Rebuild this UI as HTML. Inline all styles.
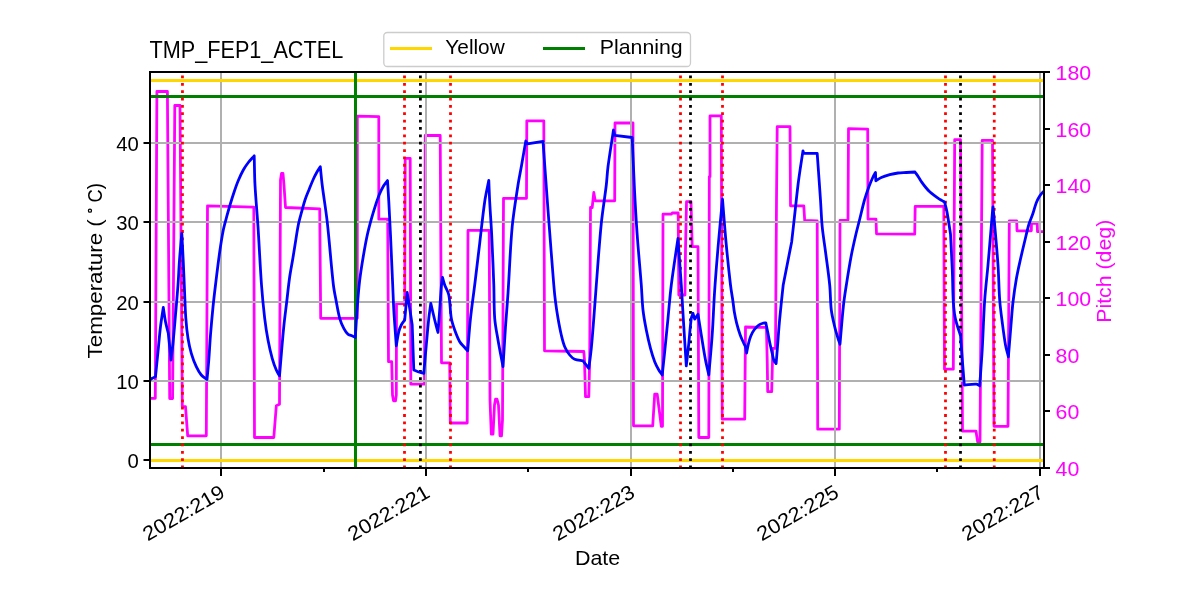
<!DOCTYPE html><html><head><meta charset="utf-8"><style>html,body{margin:0;padding:0;background:#fff;}svg{display:block;will-change:transform;}text{font-family:"Liberation Sans",sans-serif;}</style></head><body>
<svg width="1200" height="600" viewBox="0 0 1200 600">
<rect x="0" y="0" width="1200" height="600" fill="#fff"/>
<defs><clipPath id="ax"><rect x="150" y="72" width="894" height="396"/></clipPath></defs>
<g clip-path="url(#ax)"><path d="M150.00,398.30 L155.30,398.30 L156.90,91.50 L167.40,91.50 L169.70,398.50 L172.60,398.50 L174.80,105.50 L180.00,105.50 L181.50,300.00 L182.30,406.70 L185.50,406.70 L187.70,435.80 L206.30,435.80 L207.50,205.80 L253.80,207.20 L254.50,437.50 L273.80,437.50 L276.30,405.80 L279.50,404.20 L280.50,180.00 L281.50,173.50 L283.00,173.50 L284.00,185.00 L285.50,207.50 L319.70,208.80 L320.70,318.30 L357.30,318.30 L357.30,116.20 L378.80,116.70 L378.80,219.20 L387.70,219.20 L388.50,361.70 L391.70,361.70 L392.50,395.00 L393.50,400.80 L395.50,400.80 L396.30,395.00 L396.50,303.70 L404.70,303.70 L405.20,158.30 L410.20,158.30 L410.80,384.20 L424.50,384.20 L425.20,135.50 L440.20,135.50 L441.50,362.80 L449.70,362.80 L450.30,423.00 L467.20,423.00 L468.00,230.30 L489.20,230.30 L490.00,400.00 L491.30,434.20 L493.00,434.20 L494.50,405.00 L495.50,399.20 L497.00,399.20 L498.50,405.00 L500.00,435.80 L501.50,435.80 L502.50,420.00 L503.50,198.30 L526.50,198.30 L526.80,120.80 L543.80,120.80 L544.50,350.80 L583.80,351.50 L584.50,360.00 L585.50,396.70 L588.80,396.70 L589.70,360.00 L590.50,207.50 L592.20,207.50 L593.80,192.50 L595.20,200.80 L614.70,200.80 L615.00,123.00 L633.00,123.00 L633.50,425.80 L652.70,425.80 L654.70,394.20 L657.20,394.20 L661.30,426.30 L662.50,426.30 L663.00,214.20 L671.30,214.20 L672.20,213.00 L678.20,213.00 L678.80,295.00 L685.00,295.00 L685.50,249.00 L686.50,201.70 L691.00,201.70 L692.20,246.70 L698.00,246.70 L698.80,437.50 L708.80,437.50 L709.30,176.70 L710.00,176.70 L710.00,115.80 L721.30,115.80 L722.20,419.20 L744.70,419.20 L745.50,327.00 L766.40,327.40 L767.20,360.00 L767.70,391.70 L771.70,391.70 L772.50,360.00 L772.80,348.30 L775.50,348.30 L776.50,200.00 L777.20,126.70 L790.00,126.70 L790.50,205.80 L803.80,205.80 L804.70,220.50 L817.20,221.00 L817.70,429.20 L839.30,429.20 L840.00,220.30 L848.00,220.30 L848.50,128.70 L867.70,129.20 L868.00,219.20 L876.00,219.20 L876.50,233.80 L914.70,234.20 L915.20,206.30 L943.80,206.30 L944.50,369.20 L953.30,369.20 L954.70,139.70 L960.50,139.70 L962.50,431.20 L976.00,431.20 L977.70,442.00 L980.00,442.00 L981.00,300.00 L982.20,140.30 L992.50,140.30 L994.00,426.30 L1008.00,426.30 L1009.30,220.80 L1016.70,220.80 L1017.00,230.80 L1031.30,230.80 L1031.50,223.30 L1037.20,223.30 L1037.50,231.70 L1050.00,231.70" fill="none" stroke="#ff00ff" stroke-width="2.78" stroke-linejoin="round" stroke-linecap="butt"/></g>
<rect x="220" y="72" width="2" height="396" fill="#b0b0b0"/><rect x="425" y="72" width="2" height="396" fill="#b0b0b0"/><rect x="630" y="72" width="2" height="396" fill="#b0b0b0"/><rect x="834" y="72" width="2" height="396" fill="#b0b0b0"/><rect x="1039" y="72" width="2" height="396" fill="#b0b0b0"/><rect x="150" y="459.00" width="894" height="2" fill="#b0b0b0"/><rect x="150" y="380.00" width="894" height="2" fill="#b0b0b0"/><rect x="150" y="301.00" width="894" height="2" fill="#b0b0b0"/><rect x="150" y="221.00" width="894" height="2" fill="#b0b0b0"/><rect x="150" y="142.00" width="894" height="2" fill="#b0b0b0"/>
<rect x="150" y="79" width="894" height="3" fill="#ffd700"/>
<rect x="150" y="459" width="894" height="3" fill="#ffd700"/>
<rect x="150" y="95" width="894" height="3" fill="#008000"/>
<rect x="150" y="443" width="894" height="3" fill="#008000"/>
<rect x="354" y="72" width="3" height="396" fill="#008000"/>
<line x1="182.45" y1="468.4" x2="182.45" y2="72" stroke="#ff0000" stroke-width="2.78" stroke-dasharray="2.78 4.58"/>
<line x1="404.5" y1="468.4" x2="404.5" y2="72" stroke="#ff0000" stroke-width="2.78" stroke-dasharray="2.78 4.58"/>
<line x1="450.5" y1="468.4" x2="450.5" y2="72" stroke="#ff0000" stroke-width="2.78" stroke-dasharray="2.78 4.58"/>
<line x1="680.5" y1="468.4" x2="680.5" y2="72" stroke="#ff0000" stroke-width="2.78" stroke-dasharray="2.78 4.58"/>
<line x1="722.5" y1="468.4" x2="722.5" y2="72" stroke="#ff0000" stroke-width="2.78" stroke-dasharray="2.78 4.58"/>
<line x1="945.5" y1="468.4" x2="945.5" y2="72" stroke="#ff0000" stroke-width="2.78" stroke-dasharray="2.78 4.58"/>
<line x1="994.25" y1="468.4" x2="994.25" y2="72" stroke="#ff0000" stroke-width="2.78" stroke-dasharray="2.78 4.58"/>
<line x1="420.4" y1="468.4" x2="420.4" y2="72" stroke="#000000" stroke-width="2.78" stroke-dasharray="2.78 4.58"/>
<line x1="690.5" y1="468.4" x2="690.5" y2="72" stroke="#000000" stroke-width="2.78" stroke-dasharray="2.78 4.58"/>
<line x1="960.5" y1="468.4" x2="960.5" y2="72" stroke="#000000" stroke-width="2.78" stroke-dasharray="2.78 4.58"/>
<g clip-path="url(#ax)"><path d="M146.00,380.50 C147.33,380.33 148.78,380.43 150.00,380.00 C150.84,379.70 151.41,378.77 152.20,378.30 C153.24,377.67 154.40,377.23 155.50,376.70 C156.33,368.37 157.17,360.03 158.00,351.70 C158.83,343.37 159.50,335.01 160.50,326.70 C161.27,320.28 162.37,313.90 163.30,307.50 C164.03,312.23 164.59,317.00 165.50,321.70 C166.26,325.60 167.37,329.43 168.30,333.30 C168.93,339.43 169.58,345.57 170.20,351.70 C170.48,354.47 170.73,357.23 171.00,360.00 C171.67,354.43 172.44,348.88 173.00,343.30 C173.94,333.88 174.69,324.44 175.50,315.00 C176.36,305.00 177.27,295.01 178.00,285.00 C178.61,276.67 178.89,268.33 179.50,260.00 C180.15,251.09 181.03,242.20 181.80,233.30 C182.27,242.20 182.78,251.10 183.20,260.00 C183.68,270.00 184.05,280.00 184.50,290.00 C184.92,299.33 185.13,308.69 185.80,318.00 C186.29,324.79 186.95,331.58 188.00,338.30 C188.79,343.35 189.87,348.40 191.30,353.30 C192.63,357.86 194.31,362.39 196.30,366.70 C197.65,369.62 199.26,372.56 201.30,375.00 C202.83,376.83 205.10,378.00 207.00,379.50 C207.60,373.00 208.29,366.51 208.80,360.00 C209.45,351.67 209.84,343.33 210.50,335.00 C211.24,325.66 212.07,316.32 213.00,307.00 C213.73,299.66 214.61,292.33 215.50,285.00 C216.84,273.99 218.14,262.98 219.70,252.00 C220.74,244.64 221.86,237.28 223.30,230.00 C224.19,225.52 225.52,221.12 226.70,216.70 C227.75,212.79 228.84,208.88 230.00,205.00 C231.34,200.55 232.71,196.10 234.20,191.70 C235.48,187.94 236.76,184.16 238.30,180.50 C239.80,176.93 241.42,173.38 243.30,170.00 C244.76,167.38 246.47,164.88 248.30,162.50 C250.11,160.14 252.23,158.03 254.20,155.80 C254.47,165.53 254.48,175.28 255.00,185.00 C255.75,198.91 257.10,212.79 258.00,226.70 C259.26,246.13 260.08,265.59 261.50,285.00 C262.31,296.12 263.39,307.23 264.70,318.30 C265.56,325.56 266.65,332.81 268.00,340.00 C269.15,346.15 270.53,352.28 272.20,358.30 C273.30,362.28 274.71,366.20 276.30,370.00 C277.15,372.03 278.43,373.87 279.50,375.80 C280.30,366.37 281.07,356.93 281.90,347.50 C282.60,339.56 283.26,331.62 284.10,323.70 C284.86,316.46 285.84,309.23 286.70,302.00 C287.64,294.07 288.39,286.11 289.50,278.20 C290.42,271.67 291.72,265.20 292.80,258.70 C293.56,254.14 294.26,249.56 295.00,245.00 C296.09,238.33 296.97,231.62 298.30,225.00 C299.20,220.52 300.52,216.12 301.70,211.70 C302.75,207.79 303.72,203.84 305.00,200.00 C306.22,196.34 307.77,192.79 309.20,189.20 C310.54,185.85 311.83,182.48 313.30,179.20 C314.33,176.92 315.48,174.68 316.70,172.50 C317.81,170.52 319.10,168.63 320.30,166.70 C320.93,172.80 321.44,178.92 322.20,185.00 C323.74,197.25 325.83,209.43 327.20,221.70 C329.56,242.77 331.00,263.94 333.40,285.00 C334.04,290.61 335.25,296.15 336.30,301.70 C337.35,307.25 338.17,312.89 339.70,318.30 C340.67,321.75 342.14,325.13 343.80,328.30 C344.91,330.43 346.32,332.59 348.00,334.20 C348.82,334.99 350.22,335.01 351.30,335.50 C352.66,336.11 353.97,336.83 355.30,337.50 C355.97,327.33 356.53,317.16 357.30,307.00 C357.96,298.33 358.59,289.64 359.60,281.00 C360.52,273.14 361.79,265.31 363.10,257.50 C364.42,249.64 365.75,241.77 367.50,234.00 C369.15,226.70 371.16,219.47 373.30,212.30 C375.06,206.40 376.98,200.53 379.20,194.80 C380.38,191.76 381.87,188.81 383.50,186.00 C384.63,184.05 386.17,182.33 387.50,180.50 C387.93,187.57 388.41,194.63 388.80,201.70 C389.41,212.80 389.98,223.90 390.50,235.00 C391.28,251.66 391.97,268.33 392.70,285.00 C393.07,293.33 393.31,301.67 393.80,310.00 C394.51,321.94 395.47,333.87 396.30,345.80 C397.13,341.10 397.69,336.32 398.80,331.70 C399.36,329.39 400.23,327.11 401.30,325.00 C402.20,323.21 403.57,321.67 404.70,320.00 L407.20,292.50 C408.03,297.77 408.89,303.03 409.70,308.30 C410.56,313.86 411.37,319.43 412.20,325.00 L413.80,370.00 C415.20,370.57 416.57,371.23 418.00,371.70 C419.90,372.33 421.87,372.77 423.80,373.30 C424.63,363.87 425.44,354.43 426.30,345.00 C427.11,336.10 427.84,327.19 428.80,318.30 C429.34,313.29 430.13,308.30 430.80,303.30 C432.10,308.87 433.33,314.45 434.70,320.00 C435.73,324.18 436.90,328.33 438.00,332.50 C438.57,325.00 439.16,317.50 439.70,310.00 C440.26,302.24 440.63,294.45 441.30,286.70 C441.57,283.62 442.10,280.57 442.50,277.50 C443.23,280.00 443.82,282.55 444.70,285.00 C445.92,288.39 448.11,291.50 448.80,295.00 C450.31,302.60 450.01,310.62 451.30,318.30 C451.97,322.29 453.33,326.18 454.70,330.00 C456.13,333.98 457.62,338.06 459.70,341.70 C460.95,343.89 463.01,345.58 464.70,347.50 C465.68,348.62 466.70,349.70 467.70,350.80 C468.63,339.97 469.35,329.11 470.50,318.30 C471.68,307.18 473.34,296.10 474.70,285.00 C476.40,271.10 478.03,257.20 479.70,243.30 C481.36,229.43 482.70,215.52 484.70,201.70 C485.74,194.52 487.43,187.43 488.80,180.30 C489.10,187.43 489.32,194.57 489.70,201.70 C490.29,212.80 491.15,223.89 491.70,235.00 C492.52,251.66 493.20,268.33 493.80,285.00 C494.20,296.10 493.86,307.25 494.70,318.30 C495.26,325.58 496.76,332.79 498.00,340.00 C499.53,348.92 501.33,357.80 503.00,366.70 C503.83,353.37 504.59,340.03 505.50,326.70 C506.26,315.56 507.25,304.44 508.00,293.30 C509.49,271.11 510.16,248.84 512.20,226.70 C513.49,212.74 515.90,198.87 518.00,185.00 C518.93,178.87 520.22,172.80 521.30,166.70 C522.82,158.14 524.30,149.57 525.80,141.00 L527.30,143.80 L543.00,141.30 C544.67,164.20 546.28,187.10 548.00,210.00 C549.88,235.00 551.76,260.01 553.80,285.00 C554.26,290.58 554.80,296.15 555.50,301.70 C556.20,307.25 557.04,312.79 558.00,318.30 C558.97,323.89 560.00,329.48 561.30,335.00 C562.23,338.95 563.14,342.99 564.70,346.70 C565.94,349.65 567.71,352.51 569.70,355.00 C571.04,356.68 572.77,358.36 574.70,359.20 C577.20,360.29 580.23,360.27 583.00,360.80 L588.80,368.30 C589.63,361.63 590.63,354.98 591.30,348.30 C592.30,338.32 593.01,328.30 593.80,318.30 C594.68,307.20 595.42,296.10 596.30,285.00 C597.92,264.43 599.25,243.83 601.30,223.30 C602.58,210.49 604.79,197.78 606.30,185.00 C607.02,178.92 607.21,172.77 608.00,166.70 C609.61,154.44 611.67,142.23 613.50,130.00 L614.70,135.30 L632.20,137.50 C632.97,155.00 633.60,172.51 634.50,190.00 C635.27,205.01 636.13,220.01 637.20,235.00 C638.39,251.68 640.01,268.33 641.30,285.00 C641.94,293.33 642.08,301.71 643.00,310.00 C643.75,316.71 645.00,323.37 646.30,330.00 C647.50,336.14 648.90,342.25 650.50,348.30 C651.70,352.82 653.03,357.34 654.70,361.70 C655.80,364.57 657.29,367.32 658.80,370.00 C659.79,371.75 661.07,373.33 662.20,375.00 C663.03,367.23 663.91,359.47 664.70,351.70 C665.84,340.57 666.90,329.43 668.00,318.30 C669.10,307.20 669.92,296.07 671.30,285.00 C673.25,269.40 675.77,253.87 678.00,238.30 C679.10,253.87 680.28,269.43 681.30,285.00 C682.21,298.89 682.94,312.80 683.80,326.70 C684.61,339.73 685.47,352.77 686.30,365.80 C687.13,358.30 688.01,350.80 688.80,343.30 C689.68,334.97 690.14,326.56 691.30,318.30 C691.54,316.56 692.43,314.97 693.00,313.30 L694.70,319.20 L698.00,314.20 C699.10,321.13 700.17,328.07 701.30,335.00 C702.67,343.34 703.94,351.70 705.50,360.00 C706.44,365.03 707.70,370.00 708.80,375.00 C709.93,361.67 711.27,348.35 712.20,335.00 C713.24,320.01 713.68,304.99 714.70,290.00 C715.78,273.99 717.13,257.99 718.50,242.00 C719.73,227.72 721.17,213.47 722.50,199.20 C723.67,213.47 724.67,227.75 726.00,242.00 C727.34,256.35 728.82,270.69 730.50,285.00 C731.16,290.59 732.21,296.13 733.00,301.70 C733.47,305.03 733.73,308.39 734.30,311.70 C734.97,315.59 735.73,319.48 736.70,323.30 C737.70,327.24 738.85,331.17 740.20,335.00 C741.18,337.80 742.49,340.48 743.70,343.20 C744.23,344.38 745.04,345.47 745.40,346.70 C746.01,348.77 746.20,350.97 746.60,353.10 C747.17,350.17 747.60,347.20 748.30,344.30 C748.96,341.57 749.64,338.79 750.70,336.20 C751.61,333.96 752.78,331.75 754.20,329.80 C755.48,328.05 757.06,326.36 758.80,325.10 C760.16,324.12 761.90,323.63 763.50,323.10 C764.23,322.86 765.03,322.90 765.80,322.80 C766.40,325.70 767.02,328.60 767.60,331.50 C768.38,335.40 769.08,339.31 769.90,343.20 C770.64,346.71 771.48,350.20 772.30,353.70 C772.85,356.04 773.15,358.50 774.00,360.70 C774.42,361.80 775.40,362.63 776.10,363.60 C776.57,357.97 777.05,352.33 777.50,346.70 C778.12,338.90 778.62,331.09 779.30,323.30 C779.98,315.53 780.81,307.76 781.60,300.00 C782.11,295.00 782.67,290.00 783.20,285.00 L791.70,241.70 C792.80,231.80 793.90,221.90 795.00,212.00 C796.00,203.00 796.90,193.99 798.00,185.00 C798.73,178.99 799.62,172.99 800.50,167.00 C801.29,161.59 802.17,156.20 803.00,150.80 L803.80,153.30 L817.20,153.30 C818.30,168.87 819.44,184.43 820.50,200.00 C821.11,208.90 821.34,217.83 822.20,226.70 C823.01,235.06 824.43,243.36 825.50,251.70 C826.93,262.80 828.59,273.87 829.70,285.00 C830.53,293.31 830.31,301.73 831.30,310.00 C831.97,315.63 833.39,321.18 834.70,326.70 C835.63,330.61 836.84,334.45 838.00,338.30 C838.60,340.29 839.33,342.23 840.00,344.20 C841.17,331.13 842.09,318.04 843.50,305.00 C844.26,297.97 845.41,290.99 846.50,284.00 C847.91,274.99 849.32,265.97 851.00,257.00 C852.32,249.97 853.89,242.97 855.50,236.00 C856.89,229.97 858.50,224.00 860.00,218.00 C861.50,212.00 862.80,205.94 864.50,200.00 C865.80,195.44 867.36,190.95 869.00,186.50 C870.19,183.28 871.55,180.11 873.00,177.00 C873.72,175.45 874.67,174.00 875.50,172.50 L875.80,180.80 C877.63,179.70 879.35,178.35 881.30,177.50 C883.99,176.32 886.86,175.47 889.70,174.70 C892.42,173.97 895.21,173.37 898.00,173.00 C900.74,172.64 903.53,172.66 906.30,172.50 C909.20,172.33 912.10,172.17 915.00,172.00 C916.10,173.57 917.24,175.11 918.30,176.70 C919.48,178.47 920.49,180.35 921.70,182.10 C922.99,183.95 924.36,185.76 925.80,187.50 C927.12,189.10 928.49,190.68 930.00,192.10 C931.29,193.32 932.77,194.33 934.20,195.40 C935.54,196.40 936.91,197.37 938.30,198.30 C939.41,199.04 940.56,199.71 941.70,200.40 C942.66,200.98 943.63,201.53 944.60,202.10 C945.40,205.40 946.38,208.66 947.00,212.00 C948.35,219.30 949.33,226.67 950.50,234.00 C951.10,246.00 951.81,258.00 952.30,270.00 C952.71,280.00 952.70,290.01 953.20,300.00 C953.43,304.68 953.84,309.37 954.50,314.00 C954.94,317.04 955.67,320.04 956.50,323.00 C957.67,327.21 959.17,331.33 960.50,335.50 C961.07,343.10 961.62,350.70 962.20,358.30 C962.88,367.20 963.60,376.10 964.30,385.00 C968.30,384.73 972.39,384.00 976.30,384.20 C977.52,384.26 978.57,385.27 979.70,385.80 C980.53,373.87 981.50,361.94 982.20,350.00 C983.17,333.34 983.56,316.64 984.70,300.00 C985.50,288.31 986.97,276.67 988.00,265.00 C989.47,248.34 990.76,231.66 992.20,215.00 C992.43,212.33 992.73,209.67 993.00,207.00 C993.27,209.67 993.57,212.33 993.80,215.00 C995.24,231.66 996.84,248.32 998.00,265.00 C998.81,276.65 998.84,288.36 999.70,300.00 C1000.24,307.36 1001.26,314.68 1002.20,322.00 C1003.19,329.68 1004.14,337.38 1005.50,345.00 C1006.21,348.98 1007.43,352.87 1008.40,356.80 C1009.27,346.20 1010.11,335.60 1011.00,325.00 C1011.64,317.33 1012.11,309.64 1013.00,302.00 C1013.94,293.97 1015.12,285.96 1016.50,278.00 C1017.55,271.96 1018.96,265.98 1020.30,260.00 C1021.79,253.32 1023.39,246.66 1025.00,240.00 C1026.29,234.66 1027.42,229.26 1029.00,224.00 C1030.09,220.36 1031.77,216.90 1033.00,213.30 C1034.20,209.80 1034.97,206.14 1036.30,202.70 C1037.20,200.37 1038.38,198.11 1039.70,196.00 C1040.61,194.54 1041.71,193.13 1043.00,192.00 C1045.14,190.13 1047.67,188.67 1050.00,187.00" fill="none" stroke="#0000ff" stroke-width="2.78" stroke-linejoin="round" stroke-linecap="butt"/></g>
<rect x="150" y="72" width="894" height="396" fill="none" stroke="#000" stroke-width="2" />
<rect x="143.5" y="459.00" width="6" height="2" fill="#000"/><text x="138.7" y="468.00" font-size="20.3" text-anchor="end">0</text><rect x="143.5" y="380.00" width="6" height="2" fill="#000"/><text x="138.7" y="389.00" font-size="20.3" text-anchor="end">10</text><rect x="143.5" y="301.00" width="6" height="2" fill="#000"/><text x="138.7" y="310.00" font-size="20.3" text-anchor="end">20</text><rect x="143.5" y="221.00" width="6" height="2" fill="#000"/><text x="138.7" y="230.00" font-size="20.3" text-anchor="end">30</text><rect x="143.5" y="142.00" width="6" height="2" fill="#000"/><text x="138.7" y="151.00" font-size="20.3" text-anchor="end">40</text><rect x="1045" y="467.00" width="5" height="2" fill="#000"/><text transform="translate(1055.6,476.00) scale(1.05,1)" font-size="20.3" fill="#ff00ff">40</text><rect x="1045" y="410.00" width="5" height="2" fill="#000"/><text transform="translate(1055.6,419.00) scale(1.05,1)" font-size="20.3" fill="#ff00ff">60</text><rect x="1045" y="354.00" width="5" height="2" fill="#000"/><text transform="translate(1055.6,363.00) scale(1.05,1)" font-size="20.3" fill="#ff00ff">80</text><rect x="1045" y="297.00" width="5" height="2" fill="#000"/><text transform="translate(1055.6,306.00) scale(1.05,1)" font-size="20.3" fill="#ff00ff">100</text><rect x="1045" y="241.00" width="5" height="2" fill="#000"/><text transform="translate(1055.6,250.00) scale(1.05,1)" font-size="20.3" fill="#ff00ff">120</text><rect x="1045" y="184.00" width="5" height="2" fill="#000"/><text transform="translate(1055.6,193.00) scale(1.05,1)" font-size="20.3" fill="#ff00ff">140</text><rect x="1045" y="128.00" width="5" height="2" fill="#000"/><text transform="translate(1055.6,137.00) scale(1.05,1)" font-size="20.3" fill="#ff00ff">160</text><rect x="1045" y="71.00" width="5" height="2" fill="#000"/><text transform="translate(1055.6,80.00) scale(1.05,1)" font-size="20.3" fill="#ff00ff">180</text><rect x="220" y="469" width="2" height="7" fill="#000"/><rect x="425" y="469" width="2" height="7" fill="#000"/><rect x="630" y="469" width="2" height="7" fill="#000"/><rect x="834" y="469" width="2" height="7" fill="#000"/><rect x="1039" y="469" width="2" height="7" fill="#000"/><rect x="323" y="469" width="2" height="3" fill="#000"/><rect x="527" y="469" width="2" height="3" fill="#000"/><rect x="732" y="469" width="2" height="3" fill="#000"/><rect x="936" y="469" width="2" height="3" fill="#000"/><text transform="translate(226.30,496.1) rotate(-30) scale(1.0707,1)" font-size="20.3" text-anchor="end">2022:219</text><text transform="translate(431.30,496.1) rotate(-30) scale(1.0707,1)" font-size="20.3" text-anchor="end">2022:221</text><text transform="translate(636.30,496.1) rotate(-30) scale(1.0707,1)" font-size="20.3" text-anchor="end">2022:223</text><text transform="translate(840.30,496.1) rotate(-30) scale(1.0707,1)" font-size="20.3" text-anchor="end">2022:225</text><text transform="translate(1045.30,496.1) rotate(-30) scale(1.0707,1)" font-size="20.3" text-anchor="end">2022:227</text>
<text transform="translate(574.94,565) scale(1.057,1)" font-size="20.3">Date</text>
<text transform="translate(102.2,358.5) rotate(-90) scale(1.102,1)" font-size="20.3">Temperature (</text>
<text transform="translate(102.2,202.4) rotate(-90) scale(0.9,1)" font-size="20.3">C)</text>
<circle cx="89.95" cy="210.65" r="1.55" fill="none" stroke="#000" stroke-width="1.25"/>
<text transform="translate(1111,322.75) rotate(-90) scale(1.05,1)" font-size="20.3" fill="#ff00ff">Pitch (deg)</text>
<text transform="translate(149.5,57.9) scale(0.882,1)" font-size="24.56">TMP_FEP1_ACTEL</text>
<rect x="383.8" y="32.5" width="306.7" height="34" rx="3.5" fill="#fff" fill-opacity="0.8" stroke="#cccccc" stroke-width="1.3"/>
<rect x="390" y="47" width="42" height="3" fill="#ffd700"/>
<rect x="543" y="47" width="42" height="3" fill="#008000"/>
<text transform="translate(445.35,53.75) scale(1.025,1)" font-size="20.3">Yellow</text>
<text transform="translate(599.8,53.75) scale(1.049,1)" font-size="20.3">Planning</text>
</svg></body></html>
